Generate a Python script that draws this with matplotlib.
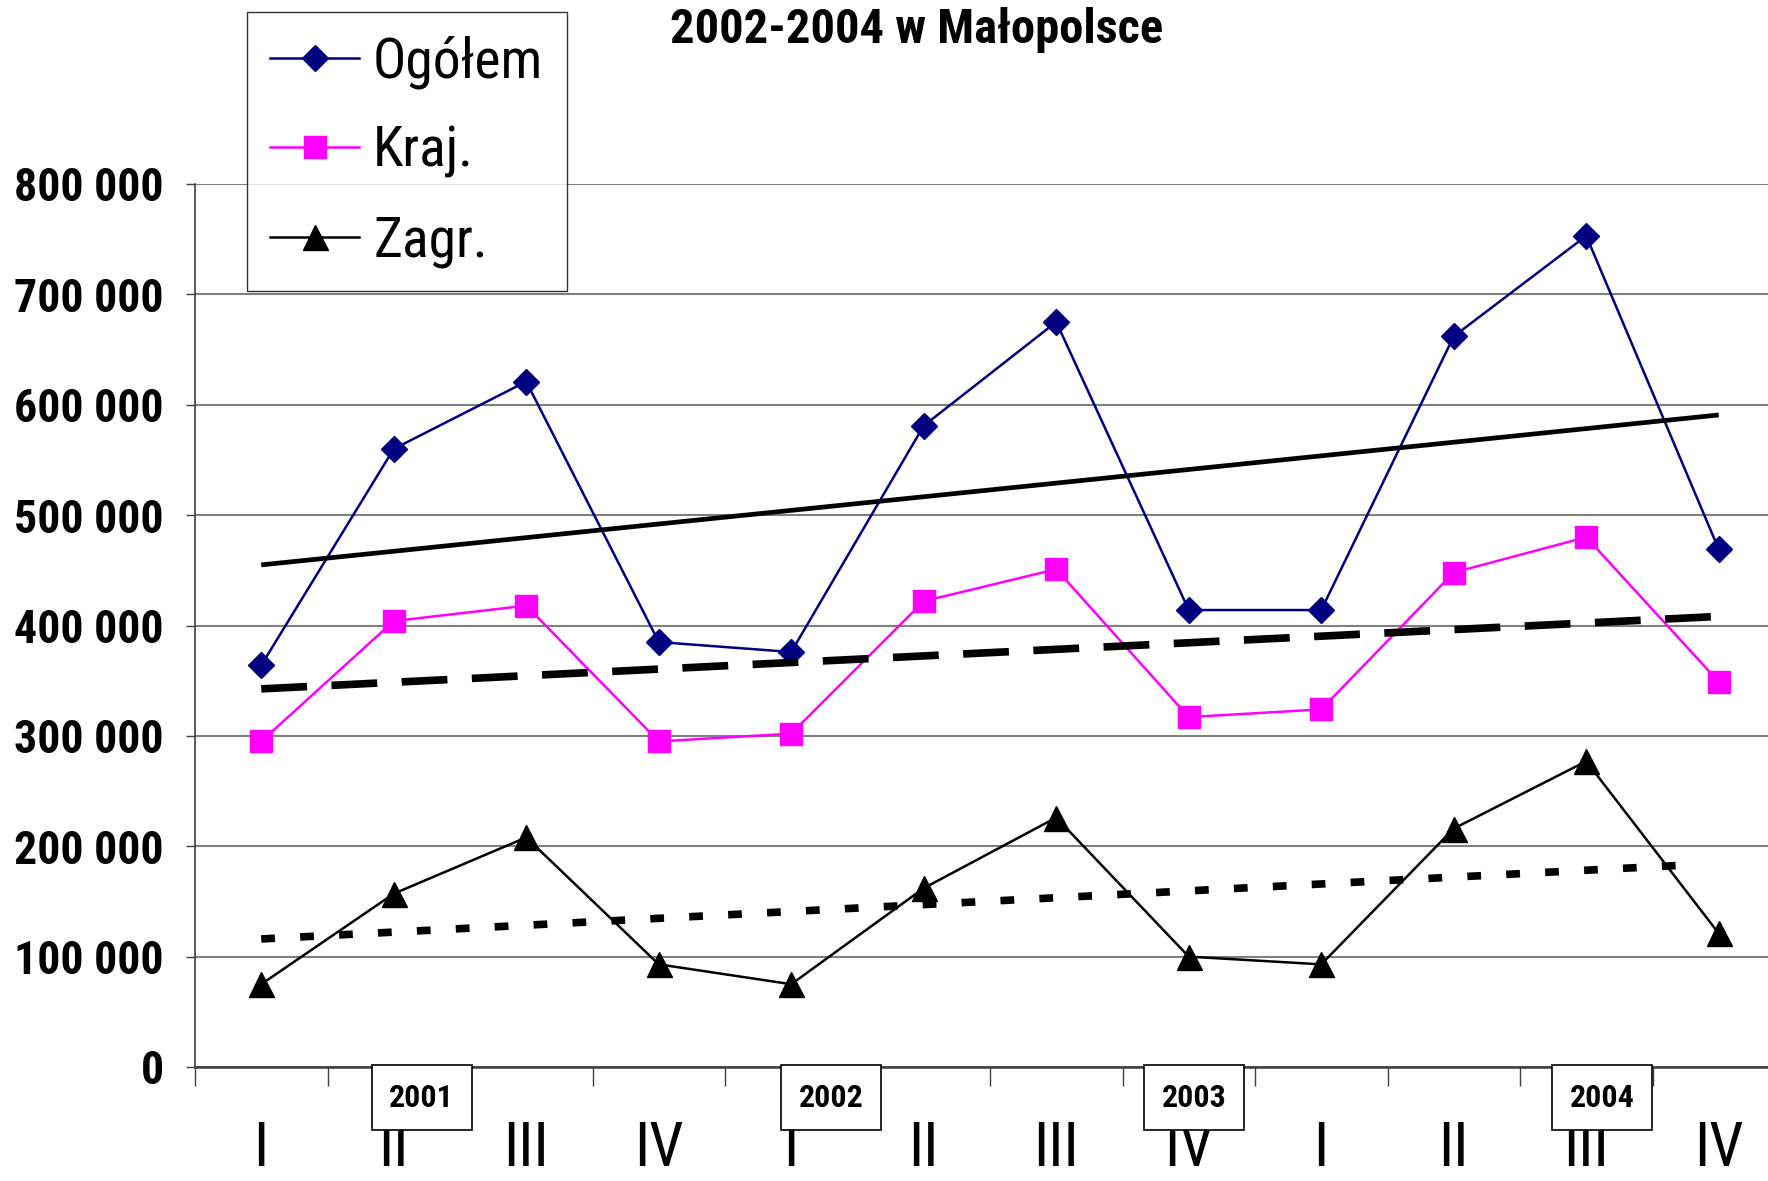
import numpy as np
import matplotlib
matplotlib.use('Agg')
import matplotlib.pyplot as plt
from matplotlib.ticker import MultipleLocator, FuncFormatter
import matplotlib.transforms as mtransforms

# values (quarterly)
quarters = ['I', 'II', 'III', 'IV', 'I', 'II', 'III', 'IV', 'I', 'II', 'III', 'IV']
years = ['2001', '2002', '2003', '2004']
year_pos = [1.21, 4.30, 7.04, 10.12]
ogolem = [364000, 560000, 621000, 385000, 376000, 581000, 675000, 414000, 414000, 662000, 753000, 469000]
kraj = [295000, 404000, 418000, 295000, 302000, 422000, 451000, 317000, 324000, 448000, 480000, 349000]
zagr = [75000, 157000, 208000, 93000, 75000, 162000, 226000, 100000, 93000, 216000, 277000, 121000]

# narrow face, like the squeezed Arial of the original
plt.rcParams['font.family'] = ['Roboto Condensed', 'Liberation Sans', 'DejaVu Sans']

fig = plt.figure(figsize=(17.68, 11.81), dpi=100)
ax = fig.add_axes([195 / 1768, 114 / 1181, 1590 / 1768, 883 / 1181])

x = np.arange(len(quarters))
ax.plot(x, ogolem, color='#000080', lw=1.8, marker='D', ms=13, mec='#000080', label='Ogółem', zorder=3)
ax.plot(x, kraj, color='#FF00FF', lw=1.8, marker='s', ms=16, mec='#FF00FF', label='Kraj.', zorder=3)
ax.plot(x, zagr, color='black', lw=1.8, marker='^', ms=18, label='Zagr.', zorder=3)

# linear trend lines
p = np.polyfit(x, ogolem, 1)
ax.plot(x, np.polyval(p, x), color='black', lw=3.4, solid_capstyle='butt', zorder=4)
p = np.polyfit(x, kraj, 1)
ax.plot(x, np.polyval(p, x), color='black', lw=5.5, ls=(0, (6, 3.2)), dash_capstyle='butt', zorder=4)
p = np.polyfit(x, zagr, 1)
ax.plot(x[:-1].tolist() + [10.85], np.polyval(p, x[:-1].tolist() + [10.85]), color='black', lw=5.5,
        ls=(0, (1.8, 3.3)), dash_capstyle='butt', zorder=4)

ax.set_xlim(-0.5, 11.5)
ax.set_ylim(0, 800000)
ax.yaxis.set_major_locator(MultipleLocator(100000))
ax.yaxis.set_major_formatter(FuncFormatter(lambda v, pos: '{:,}'.format(int(v)).replace(',', ' ')))
ax.grid(axis='y', color='#808080', lw=1.5)
ax.set_axisbelow(True)
for s in ['top', 'right']:
    ax.spines[s].set_visible(False)
ax.spines['left'].set_color('#404040')
ax.spines['bottom'].set_color('#404040')
ax.spines['left'].set_linewidth(1.2)
ax.spines['bottom'].set_linewidth(1.8)

ax.set_xticks(x)
ax.set_xticklabels(quarters)
ax.set_xticks(np.arange(-0.5, 12, 1), minor=True)
ax.tick_params(axis='x', which='major', length=0, pad=38, labelsize=44)
ax.tick_params(axis='x', which='minor', length=14, width=1, color='#404040')
ax.tick_params(axis='y', length=6.5, width=1, color='#404040', pad=16, labelsize=33)
for t in ax.get_yticklabels():
    t.set_fontweight('bold')

# year boxes under the axis
trans = mtransforms.blended_transform_factory(ax.transData, ax.transAxes)
for yr, xp in zip(years, year_pos):
    ax.text(xp, -0.035, yr, transform=trans, ha='center', va='center', fontsize=23,
            fontweight='bold', clip_on=False,
            bbox=dict(boxstyle='square,pad=0.55', fc='white', ec='black', lw=1.2))

fig.text(917 / 1768, 1 - 30 / 1181, '2002-2004 w Małopolsce', ha='center', va='center',
         fontsize=35, fontweight='bold')

leg = fig.legend(loc='upper left', bbox_to_anchor=(247 / 1768, 1 - 12 / 1181), frameon=True,
                 fancybox=False, edgecolor='black', fontsize=40, handlelength=1.6,
                 handletextpad=0.25, borderpad=0.42, labelspacing=0.65, borderaxespad=0)
leg.get_frame().set_linewidth(1.0)

fig.savefig('out.png', dpi=100)
